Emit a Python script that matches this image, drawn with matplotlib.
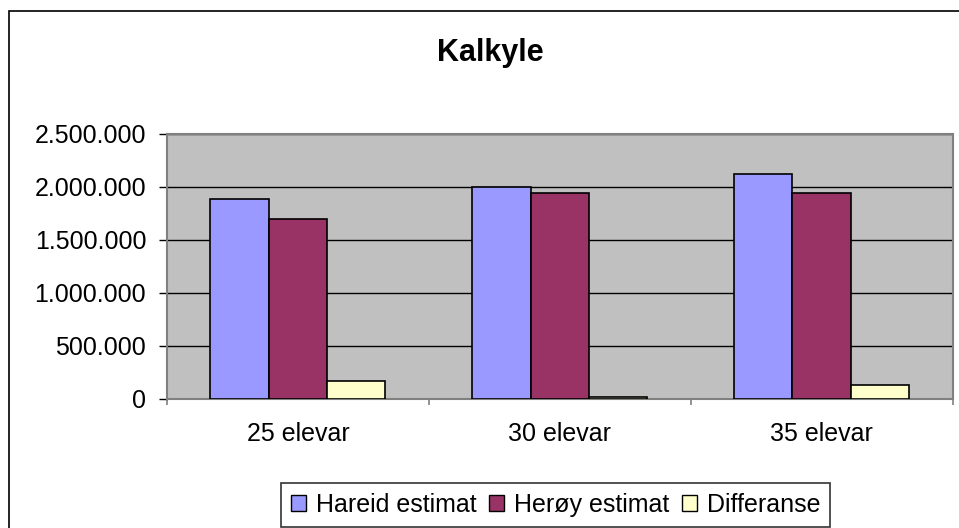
import matplotlib.pyplot as plt
import numpy as np
from matplotlib.patches import Rectangle, Patch
from matplotlib.ticker import FuncFormatter, FixedLocator

plt.rcParams['font.family'] = ['Liberation Sans', 'DejaVu Sans']

# data
categories = ['25 elevar', '30 elevar', '35 elevar']
series_names = ['Hareid estimat', 'Herøy estimat', 'Differanse']
hareid = [1887000, 1994000, 2114000]
heroy = [1699000, 1944000, 1944000]
differanse = [170000, 20000, 130000]
series_colors = ['#9999FF', '#993366', '#FFFFCC']
y_ticks = [0, 500000, 1000000, 1500000, 2000000, 2500000]

W, H = 959, 528
fig = plt.figure(figsize=(W / 100, H / 100), dpi=100)

# outer chart border (cut off at right and bottom in the original)
fig.patches.append(Rectangle((9 / W, -0.1), 1.2, 1.1 - 11 / H + 0.0,
                             transform=fig.transFigure, fill=False,
                             edgecolor='black', linewidth=1.2))

ax = fig.add_axes([167 / W, 1 - 399 / H, (952.5 - 167) / W, (399 - 133.5) / H])
ax.set_facecolor('#C0C0C0')

x = np.arange(len(categories))
bw = 0.223
for i, (vals, name, col) in enumerate(zip([hareid, heroy, differanse], series_names, series_colors)):
    ax.bar(x + (i - 1) * bw, vals, width=bw, color=col, edgecolor='black',
           linewidth=1.2, label=name, zorder=3)

ax.set_xlim(-0.5, len(categories) - 0.5)
ax.set_ylim(0, 2500000)
ax.set_yticks(y_ticks)
ax.yaxis.set_major_formatter(FuncFormatter(lambda v, p: f"{int(v):,}".replace(',', '.')))
ax.yaxis.grid(True, color='black', linewidth=1.0, zorder=1)
ax.set_axisbelow(True)

ax.set_xticks(x)
ax.set_xticklabels(categories)
ax.xaxis.set_minor_locator(FixedLocator(np.arange(-0.5, len(categories), 1.0)))
ax.tick_params(axis='x', which='major', length=0, pad=16.5, labelsize=18)
ax.tick_params(axis='x', which='minor', length=4, color='#808080', width=1.2)
ax.tick_params(axis='y', length=6, pad=9, labelsize=18, color='black', width=1.0)

for s in ax.spines.values():
    s.set_color('#808080')
    s.set_linewidth(1.5)

fig.text(490 / W, 1 - 61 / H, 'Kalkyle', fontsize=22, fontweight='bold',
         ha='center', va='baseline')

handles = [Patch(facecolor=c, edgecolor='black', linewidth=1.0) for c in series_colors]
leg = fig.legend(handles, series_names, loc='upper left',
                 bbox_to_anchor=(281 / W, 1 - 483 / H), ncol=3, fontsize=18,
                 frameon=True, fancybox=False, edgecolor='black',
                 handlelength=0.6, handleheight=0.6, handletextpad=0.4,
                 columnspacing=0.5, borderpad=0.4, borderaxespad=0)
leg.get_frame().set_linewidth(1.2)

fig.savefig('out.png', dpi=100)
